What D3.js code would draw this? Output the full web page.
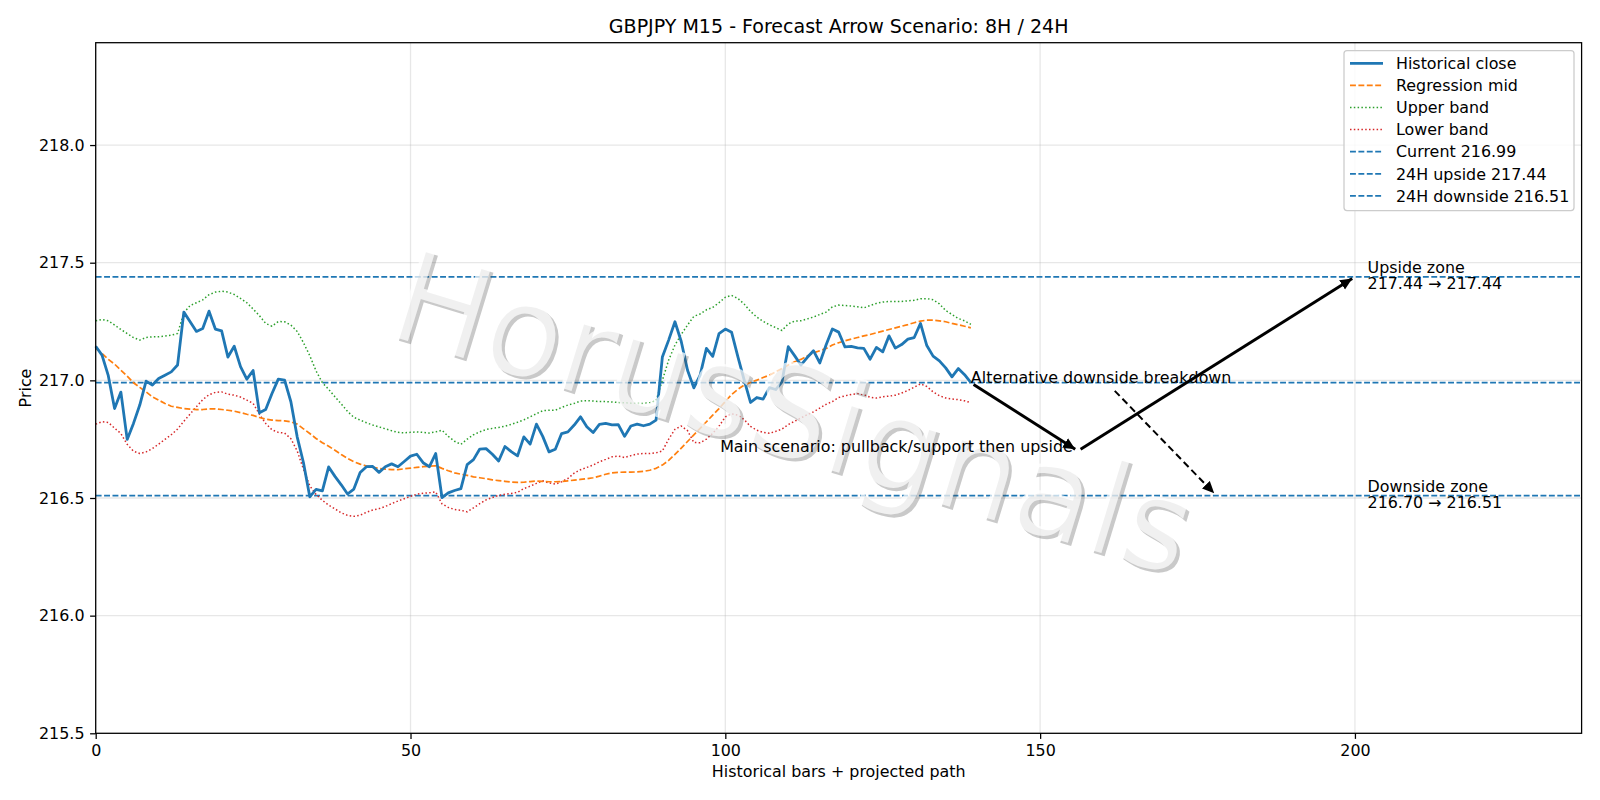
<!DOCTYPE html>
<html><head><meta charset="utf-8">
<script src="https://cdn.jsdelivr.net/npm/d3@7/dist/d3.min.js"></script>
<style>body{margin:0;background:#fff}svg{font-family:"DejaVu Sans",sans-serif}</style>
</head><body><svg id="c" width="1600" height="800"></svg>
<script>
// ---------------- data ----------------
const closeSeries = [
217.145,217.107,217.020,216.880,216.950,216.749,216.817,216.895,216.997,216.980,
217.008,217.022,217.036,217.065,217.290,217.249,217.208,217.220,217.294,217.218,
217.210,217.099,217.145,217.058,217.005,217.042,216.862,216.876,216.944,217.005,
217.001,216.909,216.760,216.650,216.505,216.537,216.530,216.632,216.592,216.556,
216.517,216.538,216.608,216.633,216.634,216.609,216.633,216.645,216.633,216.655,
216.678,216.686,216.650,216.633,216.689,216.502,216.522,216.532,216.540,216.642,
216.663,216.708,216.710,216.686,216.657,216.719,216.697,216.679,216.760,216.729,
216.814,216.762,216.696,216.707,216.774,216.781,216.810,216.845,216.803,216.778,
216.813,216.817,216.811,216.812,216.762,216.806,216.814,216.807,216.814,216.831,
217.099,217.171,217.249,217.165,217.043,216.968,217.022,217.136,217.102,217.199,
217.218,217.204,217.100,217.001,216.906,216.927,216.920,216.969,216.961,216.994,
217.143,217.105,217.065,217.097,217.126,217.074,217.150,217.218,217.205,217.142,
217.144,217.138,217.136,217.090,217.140,217.121,217.189,217.137,217.152,217.175,
217.182,217.242,217.148,217.103,217.083,217.053,217.015,217.050,217.024,216.990];
const regressionMid = [
217.136,217.114,217.089,217.069,217.043,217.018,216.990,216.970,216.951,216.930,
216.916,216.902,216.890,216.885,216.880,216.878,216.876,216.876,216.879,216.879,
216.876,216.873,216.869,216.863,216.856,216.851,216.842,216.835,216.831,216.829,
216.828,216.824,216.814,216.794,216.774,216.753,216.735,216.720,216.703,216.685,
216.668,216.654,216.644,216.636,216.630,216.626,216.623,216.621,216.621,216.624,
216.627,216.630,216.633,216.635,216.637,216.626,216.616,216.607,216.601,216.596,
216.590,216.586,216.582,216.577,216.574,216.571,216.568,216.566,216.567,216.570,
216.572,216.571,216.569,216.569,216.570,216.573,216.576,216.579,216.582,216.586,
216.593,216.601,216.607,216.609,216.610,216.610,216.611,216.613,216.618,216.626,
216.640,216.660,216.685,216.712,216.740,216.768,216.796,216.824,216.852,216.880,
216.910,216.940,216.962,216.980,216.991,217.001,217.012,217.022,217.036,217.050,
217.065,217.079,217.089,217.103,217.117,217.126,217.135,217.150,217.160,217.168,
217.175,217.182,217.189,217.195,217.202,217.209,217.216,217.223,217.230,217.237,
217.245,217.252,217.256,217.256,217.253,217.249,217.242,217.236,217.230,217.223];
const upperBand = [
217.253,217.259,217.253,217.235,217.216,217.199,217.182,217.171,217.182,217.185,
217.185,217.188,217.192,217.199,217.287,217.318,217.330,217.342,217.364,217.375,
217.379,217.375,217.365,217.348,217.330,217.303,217.275,217.242,217.230,217.250,
217.249,217.235,217.208,217.160,217.105,217.040,216.990,216.962,216.930,216.900,
216.868,216.843,216.831,216.820,216.810,216.802,216.794,216.786,216.779,216.777,
216.779,216.781,216.779,216.776,216.781,216.788,216.762,216.741,216.728,216.750,
216.769,216.781,216.791,216.796,216.800,216.805,216.813,216.822,216.832,216.845,
216.858,216.871,216.873,216.873,216.885,216.895,216.902,216.912,216.914,216.912,
216.910,216.910,216.908,216.906,216.905,216.903,216.902,216.902,216.905,216.913,
217.000,217.086,217.150,217.195,217.235,217.272,217.282,217.300,217.310,217.330,
217.353,217.361,217.348,217.324,217.293,217.269,217.251,217.236,217.224,217.212,
217.240,217.252,217.253,217.261,217.269,217.280,217.290,217.312,217.320,217.318,
217.316,217.313,217.308,217.318,217.327,217.333,217.335,217.335,217.335,217.338,
217.340,217.347,217.347,217.343,217.325,217.297,217.280,217.263,217.253,217.238];
const lowerBand = [
216.814,216.824,216.821,216.797,216.774,216.728,216.699,216.689,216.696,216.710,
216.729,216.749,216.769,216.793,216.826,216.857,216.888,216.918,216.939,216.949,
216.951,216.941,216.937,216.929,216.916,216.902,216.856,216.817,216.790,216.779,
216.776,216.752,216.700,216.622,216.552,216.515,216.490,216.470,216.454,216.437,
216.426,216.422,216.427,216.439,216.449,216.455,216.464,216.476,216.487,216.497,
216.507,216.516,216.520,216.522,216.526,216.475,216.460,216.451,216.448,216.441,
216.458,216.476,216.492,216.502,216.511,216.516,216.519,216.524,216.540,216.550,
216.562,216.573,216.564,216.559,216.569,216.583,216.606,216.620,216.630,216.640,
216.654,216.664,216.675,216.678,216.672,216.680,216.687,216.689,216.689,216.692,
216.700,216.750,216.792,216.806,216.786,216.736,216.735,216.750,216.775,216.805,
216.845,216.858,216.852,216.833,216.804,216.788,216.779,216.775,216.783,216.793,
216.812,216.826,216.840,216.854,216.866,216.882,216.898,216.910,216.927,216.934,
216.940,216.944,216.939,216.928,216.925,216.930,216.933,216.937,216.946,216.957,
216.971,216.985,216.974,216.951,216.935,216.925,216.921,216.918,216.913,216.905];

const levelNames  = ["Current 216.99", "24H upside 217.44", "24H downside 216.51"];
const levelValues = [216.99, 217.44, 216.51];

const mainPath   = [[139, 216.99], [156, 216.70], [200, 217.44]];
const altArrow   = [[161.5, 216.965], [178, 216.51]];
const mainLabel  = "Main scenario: pullback/support then upside";
const altLabel   = "Alternative downside breakdown";
const zoneTitles = ["Upside zone", "Downside zone"];
const zoneLines  = ["217.44 \u2192 217.44", "216.70 \u2192 216.51"];
const zoneValues = [217.44, 216.51];
const zoneX      = 202;

const xTicks = [0, 50, 100, 150, 200];
const yTicks = [215.5, 216.0, 216.5, 217.0, 217.5, 218.0];
const xDomain = [0, 236];
const yDomain = [215.5, 218.435];

const titleText = "GBPJPY M15 - Forecast Arrow Scenario: 8H / 24H";
const xLabel = "Historical bars + projected path";
const yLabel = "Price";
const watermark = "HorusSignals";
const legendLabels = ["Historical close","Regression mid","Upper band","Lower band", ...levelNames];

// ---------------- layout ----------------
const M = {left:95.7, right:1581.6, top:42.7, bottom:733.3};
const FS = 15.9;
const C = {blue:"#1f77b4", orange:"#ff7f0e", green:"#2ca02c", red:"#d62728"};
const svg = d3.select("#c");
const x = d3.scaleLinear().domain(xDomain).range([M.left, M.right]);
const y = d3.scaleLinear().domain(yDomain).range([M.bottom, M.top]);

// grid
const grid = svg.append("g").attr("stroke","#b0b0b0").attr("stroke-opacity",0.3).attr("stroke-width",1.27);
grid.selectAll(".gx").data(xTicks).join("line").attr("x1",d=>x(d)).attr("x2",d=>x(d)).attr("y1",M.top).attr("y2",M.bottom);
grid.selectAll(".gy").data(yTicks).join("line").attr("x1",M.left).attr("x2",M.right).attr("y1",d=>y(d)).attr("y2",d=>y(d));

// axes
const ax = svg.append("g").attr("transform",`translate(0,${M.bottom})`)
  .call(d3.axisBottom(x).tickValues(xTicks).tickSize(5.6).tickPadding(5.6).tickFormat(d3.format("d")));
const ay = svg.append("g").attr("transform",`translate(${M.left},0)`)
  .call(d3.axisLeft(y).tickValues(yTicks).tickSize(5.6).tickPadding(5.6).tickFormat(d3.format(".1f")));
[ax, ay].forEach(g => {
  g.select(".domain").remove();
  g.selectAll("line").attr("stroke","#000").attr("stroke-width",1.27);
  g.selectAll("text").attr("font-size",FS).attr("font-family","DejaVu Sans").attr("fill","#000");
});

// level lines
svg.append("g").selectAll("line").data(levelValues).join("line")
  .attr("x1",M.left).attr("x2",M.right).attr("y1",d=>y(d)).attr("y2",d=>y(d))
  .attr("stroke",C.blue).attr("stroke-width",1.7).attr("stroke-dasharray","5.9,2.5");

// series
const line = d3.line().x((d,i)=>x(i)).y(d=>y(d));
const series = [
  {data:upperBand, color:C.green, w:1.5, dash:"1.5,2.3"},
  {data:lowerBand, color:C.red, w:1.5, dash:"1.5,2.3"},
  {data:regressionMid, color:C.orange, w:1.7, dash:"5.9,2.5"},
  {data:closeSeries, color:C.blue, w:2.8, dash:null}
];
svg.append("g").selectAll("path").data(series).join("path")
  .attr("d",d=>line(d.data)).attr("fill","none").attr("stroke",d=>d.color)
  .attr("stroke-width",d=>d.w).attr("stroke-dasharray",d=>d.dash).attr("stroke-linejoin","round");

// watermark (white text with soft offset shadow)
const wmX = 790, wmY = 422, wmRot = 17, wmSize = 127;
svg.append("text").attr("transform",`translate(${wmX+3.2},${wmY+3.2}) rotate(${wmRot})`)
  .attr("text-anchor","middle").attr("dy","0.27em").attr("font-size",wmSize)
  .attr("fill","rgb(77,77,77)").attr("fill-opacity",0.3).text(watermark);
svg.append("text").attr("transform",`translate(${wmX},${wmY}) rotate(${wmRot})`)
  .attr("text-anchor","middle").attr("dy","0.27em").attr("font-size",wmSize)
  .attr("fill","#fff").attr("fill-opacity",0.72).text(watermark);

// arrows
const defs = svg.append("defs");
defs.append("marker").attr("id","ah").attr("markerUnits","userSpaceOnUse")
  .attr("viewBox","0 -6 12 12").attr("refX",12).attr("refY",0)
  .attr("markerWidth",12).attr("markerHeight",12).attr("orient","auto")
  .append("path").attr("d","M0,-5.5L12,0L0,5.5Z").attr("fill","#000");
function seg(a, b, sh) {
  const p = [x(a[0]), y(a[1])], q = [x(b[0]), y(b[1])];
  const dx = q[0]-p[0], dy = q[1]-p[1], L = Math.hypot(dx,dy);
  const ux = dx/L, uy = dy/L;
  return [p[0]+ux*sh, p[1]+uy*sh, q[0]-ux*sh, q[1]-uy*sh];
}
const arrows = [
  {a:mainPath[0], b:mainPath[1], w:2.9, dash:null},
  {a:mainPath[1], b:mainPath[2], w:2.9, dash:null},
  {a:altArrow[0], b:altArrow[1], w:2.0, dash:"7,4"}
];
svg.append("g").selectAll("line").data(arrows).join("line")
  .each(function(d){
    const s = seg(d.a, d.b, 3.2);
    d3.select(this).attr("x1",s[0]).attr("y1",s[1]).attr("x2",s[2]).attr("y2",s[3]);
  })
  .attr("stroke","#000").attr("stroke-width",d=>d.w).attr("stroke-dasharray",d=>d.dash)
  .attr("marker-end","url(#ah)");

// annotation texts
const ann = svg.append("g").attr("font-size",FS).attr("fill","#000");
ann.append("text").attr("x",x(mainPath[1][0])-5).attr("y",y(mainPath[1][1])+1)
  .attr("text-anchor","end").text(mainLabel);
ann.append("text").attr("x",x(mainPath[0][0])).attr("y",y(mainPath[0][1]))
  .text(altLabel);
zoneValues.forEach((v,i) => {
  const t = ann.append("text").attr("x",x(zoneX)).attr("y",y(v)-3.5);
  t.append("tspan").attr("x",x(zoneX)).text(zoneTitles[i]);
  t.append("tspan").attr("x",x(zoneX)).attr("dy",16.1).text(zoneLines[i]);
});

// spines
svg.append("rect").attr("x",M.left).attr("y",M.top).attr("width",M.right-M.left).attr("height",M.bottom-M.top)
  .attr("fill","none").attr("stroke","#000").attr("stroke-width",1.27);

// title and labels
svg.append("text").attr("x",(M.left+M.right)/2).attr("y",33.2).attr("text-anchor","middle")
  .attr("font-size",19.05).text(titleText);
svg.append("text").attr("x",(M.left+M.right)/2).attr("y",776.5).attr("text-anchor","middle")
  .attr("font-size",FS).text(xLabel);
svg.append("text").attr("transform",`translate(31,${(M.top+M.bottom)/2}) rotate(-90)`)
  .attr("text-anchor","middle").attr("font-size",FS).text(yLabel);

// legend
const handles = [
  {color:C.blue,w:2.8,dash:null},{color:C.orange,w:1.7,dash:"5.9,2.5"},
  {color:C.green,w:1.5,dash:"1.5,2.3"},{color:C.red,w:1.5,dash:"1.5,2.3"},
  {color:C.blue,w:1.7,dash:"5.9,2.5"},{color:C.blue,w:1.7,dash:"5.9,2.5"},{color:C.blue,w:1.7,dash:"5.9,2.5"}
];
const lg = svg.append("g");
lg.append("rect").attr("x",1344).attr("y",50.6).attr("width",230).attr("height",160).attr("rx",3)
  .attr("fill","#fff").attr("fill-opacity",0.8).attr("stroke","#cccccc").attr("stroke-width",1.27);
const rows = lg.selectAll("g.row").data(legendLabels).join("g")
  .attr("transform",(d,i)=>`translate(0,${63.3+22.1*i})`);
rows.append("line").attr("x1",1350).attr("x2",1383).attr("y1",0).attr("y2",0)
  .attr("stroke",(d,i)=>handles[i].color).attr("stroke-width",(d,i)=>handles[i].w)
  .attr("stroke-dasharray",(d,i)=>handles[i].dash);
rows.append("text").attr("x",1396).attr("y",0).attr("dy","0.36em").attr("font-size",FS).text(d=>d);
</script></body></html>
